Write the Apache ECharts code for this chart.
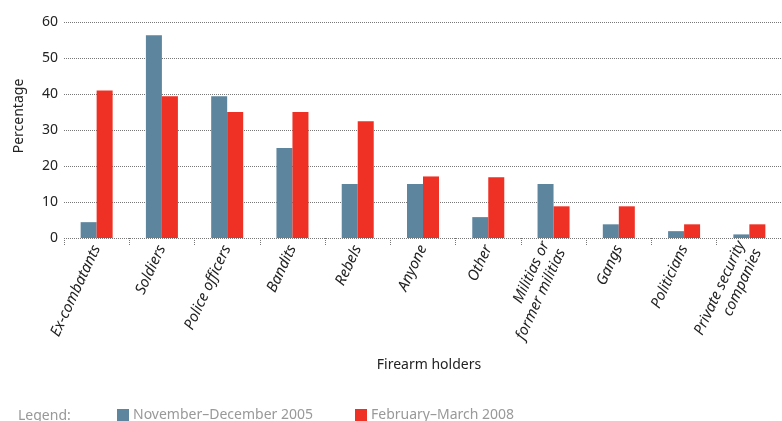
<!DOCTYPE html>
<html>
<head>
<meta charset="utf-8">
<script src="https://cdn.jsdelivr.net/npm/echarts@6/dist/echarts.min.js"></script>
<style>html,body{margin:0;padding:0;background:#fff}#c{width:782px;height:421px}</style>
</head>
<body>
<div id="c"></div>
<script>
var categories = ['Ex-combatants','Soldiers','Police officers','Bandits','Rebels','Anyone','Other','Militias or\nformer militias','Gangs','Politicians','Private security\ncompanies'];
var series2005 = [4.4, 56.3, 39.4, 25, 15, 15, 5.8, 15, 3.8, 1.9, 1.0];
var series2008 = [41, 39.4, 35, 35, 32.4, 17.1, 16.9, 8.8, 8.8, 3.8, 3.8];
var seriesNames = ['November\u2013December 2005', 'February\u2013March 2008'];
var yTicks = {min: 0, max: 60, interval: 10};

var FONT = '"Noto Sans", "Open Sans", sans-serif';
var chart = echarts.init(document.getElementById('c'));
chart.setOption({
  animation: false,
  textStyle: {fontFamily: FONT},
  grid: {left: 64, top: 22, width: 724, height: 216, containLabel: false},
  legend: {
    data: seriesNames,
    left: 112, top: 403,
    itemWidth: 12, itemHeight: 12, itemGap: 42,
    icon: 'rect',
    textStyle: {color: '#999', fontSize: 14, fontFamily: FONT, padding: [0,0,0,-1]}
  },
  graphic: [{
    type: 'text', left: 18, top: 409,
    style: {text: 'Legend:', fill: '#999', font: '14px ' + FONT}
  }],
  xAxis: {
    type: 'category',
    data: categories,
    name: 'Firearm holders',
    nameLocation: 'middle',
    nameGap: 120,
    nameTextStyle: {color: '#222', fontSize: 14, padding: [0, 0, 0, 12]},
    axisLine: {show: false},
    axisTick: {show: true, length: 7, lineStyle: {type: 'dotted', color: '#777'}},
    axisLabel: {rotate: 65, fontStyle: 'italic', fontSize: 15, color: '#222', margin: 8, interval: 0, lineHeight: 18}
  },
  yAxis: {
    type: 'value',
    min: yTicks.min, max: yTicks.max, interval: yTicks.interval,
    name: 'Percentage',
    nameLocation: 'middle',
    nameGap: 38,
    nameTextStyle: {color: '#222', fontSize: 14, padding: [0, 0, 0, 28]},
    axisLine: {show: false},
    axisTick: {show: false},
    axisLabel: {color: '#222', fontSize: 14, margin: 6},
    splitLine: {lineStyle: {type: 'dotted', color: '#777', width: 1}}
  },
  series: [
    {name: seriesNames[0], type: 'bar', data: series2005, barWidth: 16, barGap: '0%', itemStyle: {color: '#5E859E'}},
    {name: seriesNames[1], type: 'bar', data: series2008, barWidth: 16, barGap: '0%', itemStyle: {color: '#EE3124'}}
  ]
});
</script>
</body>
</html>
